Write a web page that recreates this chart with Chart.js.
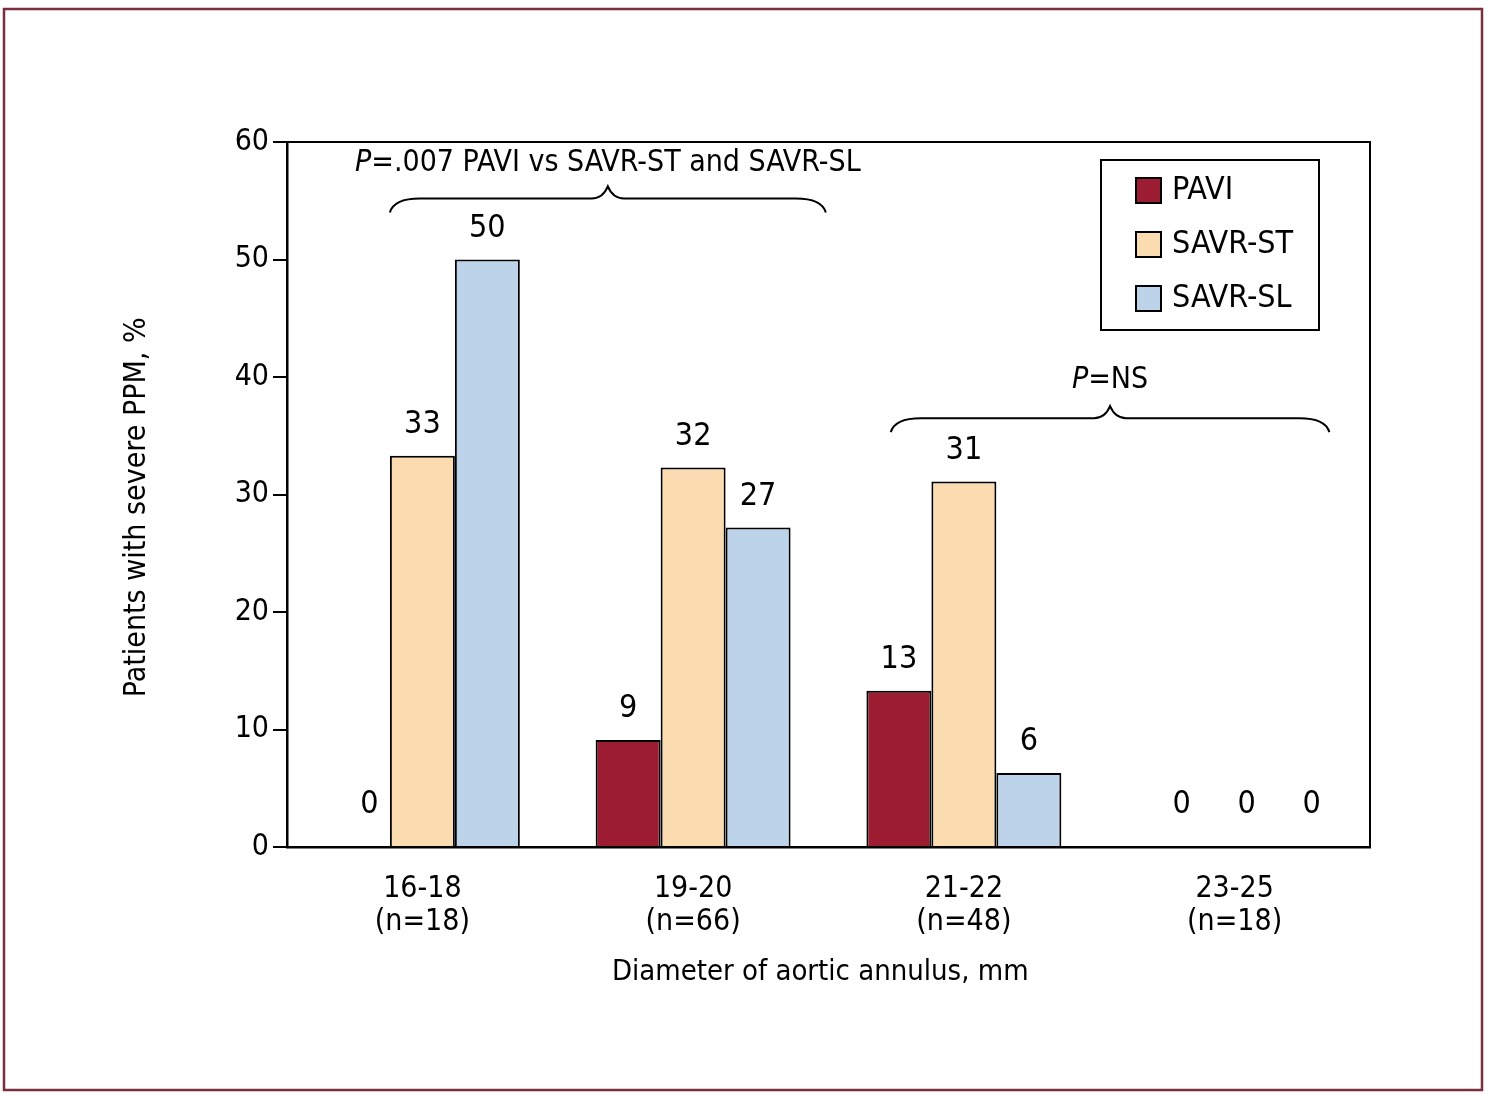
<!DOCTYPE html>
<html><head><meta charset="utf-8">
<script src="https://cdn.jsdelivr.net/npm/chart.js@4.4.0/dist/chart.umd.min.js"></script>
<style>html,body{margin:0;padding:0;background:#fff}</style>
</head><body>
<canvas id="c" width="1500" height="1100"></canvas>
<script>
// ---- data ----
const categories = [["16-18","(n=18)"],["19-20","(n=66)"],["21-22","(n=48)"],["23-25","(n=18)"]];
const seriesNames = ["PAVI","SAVR-ST","SAVR-SL"];
const paviValues = [0, 9.1, 13.3, 0];
const savrStValues = [33.3, 32.3, 31.1, 0];
const savrSlValues = [50, 27.2, 6.3, 0];
const yTicks = [0,10,20,30,40,50,60];
const yTitle = "Patients with severe PPM, %\u00a0\u00a0\u00a0";
const xTitle = "Diameter of aortic annulus, mm\u00a0\u00a0";
// brace annotations (category-index span, value level)
const braceFrom = [-0.12, 1.73];
const braceTo = [1.49, 3.35];
const braceLevel = [55.2, 36.5];
const braceTextLevel = [58.2, 39.7];
const braceTexts = ["=.007 PAVI vs SAVR-ST and SAVR-SL", "=NS"];

const FONT = '"Liberation Sans Narrow", "Arial Narrow", "DejaVu Sans Condensed", sans-serif';
const colors = ["#9c1c31", "#fbdcb0", "#bdd3ea"];

function brace(ctx, x1, x2, y) {
  const xm = (x1 + x2) / 2, d = 14, r = 30;
  ctx.beginPath();
  ctx.moveTo(x1, y + d);
  ctx.quadraticCurveTo(x1 + 4, y, x1 + r, y);
  ctx.lineTo(xm - 16, y);
  ctx.quadraticCurveTo(xm - 5, y, xm, y - 12);
  ctx.quadraticCurveTo(xm + 5, y, xm + 16, y);
  ctx.lineTo(x2 - r, y);
  ctx.quadraticCurveTo(x2 - 4, y, x2, y + d);
  ctx.stroke();
}

const decor = {
  id: 'decor',
  afterDraw(chart) {
    const ctx = chart.ctx, ca = chart.chartArea;
    const xs = chart.scales.x, ys = chart.scales.y;
    ctx.save();
    // outer frame
    ctx.strokeStyle = "#7a2e3e"; ctx.lineWidth = 2.5;
    ctx.strokeRect(4, 9, 1478, 1081);
    // plot box
    ctx.strokeStyle = "#000"; ctx.lineWidth = 2;
    ctx.beginPath();
    ctx.moveTo(ca.left, ca.top); ctx.lineTo(ca.right, ca.top); ctx.lineTo(ca.right, ca.bottom);
    ctx.stroke();
    // value labels
    ctx.fillStyle = "#000";
    ctx.font = "32px " + FONT;
    ctx.textAlign = "center"; ctx.textBaseline = "middle";
    chart.data.datasets.forEach((ds, di) => {
      const meta = chart.getDatasetMeta(di);
      meta.data.forEach((el, i) => {
        const v = ds.data[i];
        const x = v === 0 ? el.x + 12 : el.x;
        const y = v === 0 ? el.base - 42 : el.y - 31;
        ctx.fillText(String(Math.round(v)), x, y);
      });
    });
    // braces and notes
    ctx.lineWidth = 2;
    for (let k = 0; k < braceFrom.length; k++) {
      const x1 = xs.getPixelForValue(braceFrom[k]);
      const x2 = xs.getPixelForValue(braceTo[k]);
      const y = ys.getPixelForValue(braceLevel[k]);
      brace(ctx, x1, x2, y);
      const ty = ys.getPixelForValue(braceTextLevel[k]);
      const xm = (x1 + x2) / 2;
      const fi = "italic 30px " + FONT, fn = "30px " + FONT;
      ctx.font = fi; const wP = ctx.measureText("P").width;
      ctx.font = fn; const wT = ctx.measureText(braceTexts[k]).width;
      const sx = xm - (wP + wT) / 2;
      ctx.textAlign = "left";
      ctx.font = fi; ctx.fillText("P", sx, ty);
      ctx.font = fn; ctx.fillText(braceTexts[k], sx + wP, ty);
    }
    // legend
    ctx.lineWidth = 2; ctx.strokeStyle = "#000";
    ctx.strokeRect(1101, 160, 218, 170);
    chart.data.datasets.forEach((ds, di) => {
      const cy = 190 + di * 54;
      ctx.fillStyle = ds.backgroundColor;
      ctx.fillRect(1136, cy - 12, 25, 25);
      ctx.strokeRect(1136, cy - 12, 25, 25);
      ctx.fillStyle = "#000";
      ctx.font = "32px " + FONT;
      ctx.textAlign = "left"; ctx.textBaseline = "middle";
      ctx.fillText(ds.label, 1172, cy + 1);
    });
    ctx.restore();
  }
};

new Chart(document.getElementById('c'), {
  type: 'bar',
  data: {
    labels: categories,
    datasets: [
      { label: seriesNames[0], data: paviValues, backgroundColor: colors[0] },
      { label: seriesNames[1], data: savrStValues, backgroundColor: colors[1] },
      { label: seriesNames[2], data: savrSlValues, backgroundColor: colors[2] }
    ].map(d => Object.assign(d, { borderColor: "#000", borderWidth: 2, categoryPercentage: 0.72, barPercentage: 1 }))
  },
  options: {
    responsive: false,
    devicePixelRatio: 1,
    animation: false,
    layout: { padding: { left: 0, top: 142, right: 130, bottom: 103 } },
    plugins: { legend: { display: false }, tooltip: { enabled: false } },
    scales: {
      x: {
        grid: { display: false, drawTicks: false },
        border: { color: "#000", width: 2.5 },
        ticks: { color: "#000", padding: 26, font: { family: FONT, size: 30, lineHeight: 1.1 } },
        title: { display: true, text: xTitle, color: "#000", padding: { top: 0, bottom: 7 }, font: { family: FONT, size: 29, lineHeight: 1.2 } },
        afterFit(s) { s.height = 150; }
      },
      y: {
        min: 0, max: 60,
        afterBuildTicks(s) { s.ticks = yTicks.map(v => ({ value: v })); },
        grid: { drawOnChartArea: false, drawTicks: true, tickLength: 14, color: "#000", lineWidth: 2 },
        border: { color: "#000", width: 2.5 },
        ticks: { color: "#000", padding: 4, font: { family: FONT, size: 30 } },
        title: { display: true, text: yTitle, color: "#000", padding: { top: 119, bottom: 0 }, font: { family: FONT, size: 30, lineHeight: 1.2 } },
        afterFit(s) { s.width = 287; }
      }
    }
  },
  plugins: [decor]
});
</script>
</body></html>
